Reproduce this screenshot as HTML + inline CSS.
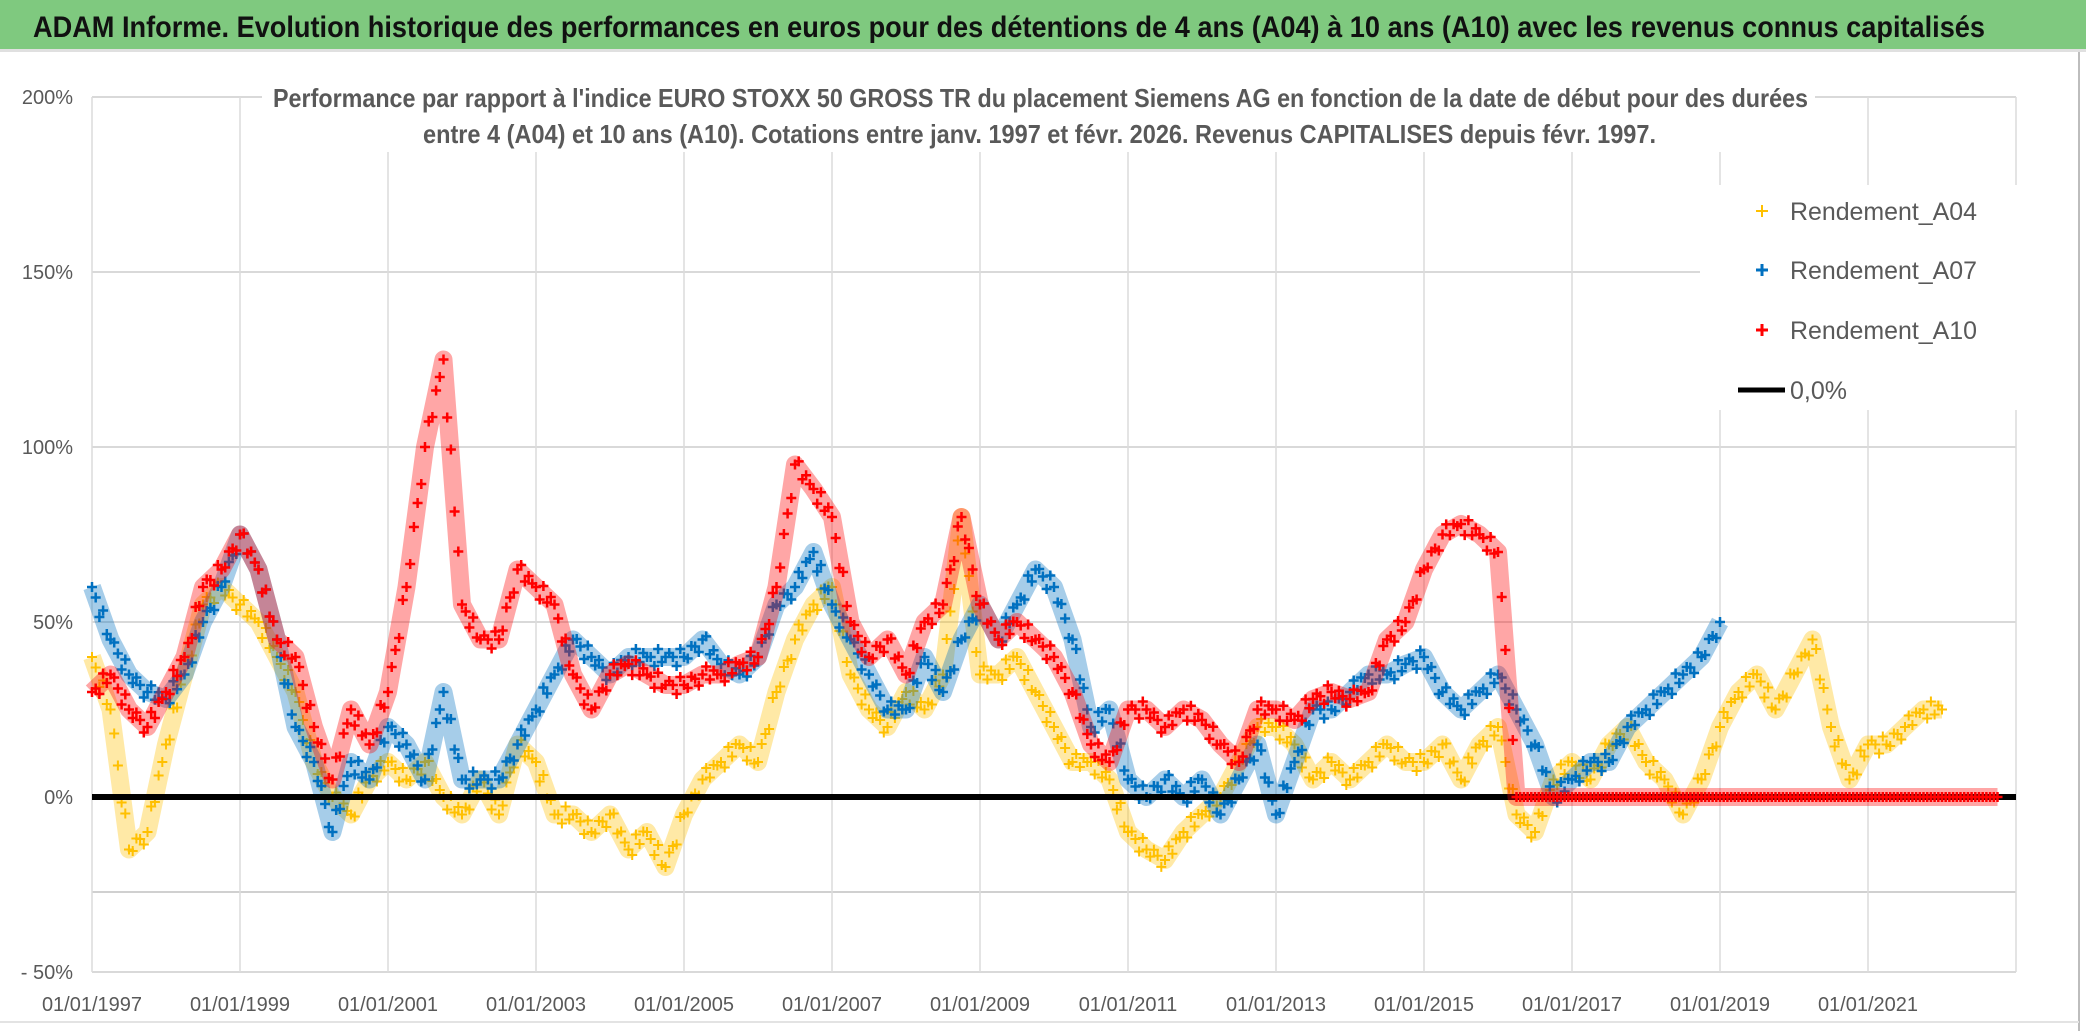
<!DOCTYPE html>
<html><head><meta charset="utf-8"><style>
html,body{margin:0;padding:0;background:#fff;}
svg{display:block;font-family:"Liberation Sans",sans-serif;}
</style></head><body>
<svg id="chart" width="2086" height="1031" viewBox="0 0 2086 1031" xmlns="http://www.w3.org/2000/svg">
<rect x="0" y="0" width="2086" height="1031" fill="#ffffff"/>
<rect x="0" y="0" width="2086" height="49" fill="#7fc97f"/>
<rect x="0" y="49" width="2086" height="3" fill="#e0e0e0"/>
<text x="33" y="37" font-size="30" font-weight="bold" fill="#111" textLength="1952" lengthAdjust="spacingAndGlyphs">ADAM Informe. Evolution historique des performances en euros pour des détentions de 4 ans (A04) à 10 ans (A10) avec les revenus connus capitalisés</text>
<line x1="2079" y1="52" x2="2079" y2="1031" stroke="#bdbdbd" stroke-width="2"/>
<line x1="0" y1="1022" x2="2079" y2="1022" stroke="#e3e3e3" stroke-width="2"/>
<g id="grid"></g>
<g id="yaxis"></g>
<g id="xaxis"></g>
<g id="series"></g>
<rect x="262" y="78" width="1553" height="74" fill="#ffffff"/>
<text x="273" y="107" font-size="26" font-weight="bold" fill="#595959" textLength="1535" lengthAdjust="spacingAndGlyphs">Performance par rapport à l'indice EURO STOXX 50 GROSS TR  du placement Siemens AG en fonction de la date de début pour des durées</text>
<text x="423" y="143" font-size="26" font-weight="bold" fill="#595959" textLength="1233" lengthAdjust="spacingAndGlyphs">entre 4 (A04) et 10 ans (A10). Cotations entre janv. 1997 et févr. 2026. Revenus CAPITALISES depuis févr. 1997.</text>
<g id="legend">
<rect x="1700" y="185" width="370" height="225" fill="#ffffff"/>
<g>
<path d="M1756 211h12M1762 205v12" stroke="#ffc000" stroke-width="2"/>
<text x="1790" y="220" font-size="25" fill="#595959" textLength="187" lengthAdjust="spacingAndGlyphs">Rendement_A04</text></g>
<g>
<path d="M1756 270h12M1762 264v12" stroke="#0070c0" stroke-width="3"/>
<text x="1790" y="279" font-size="25" fill="#595959" textLength="187" lengthAdjust="spacingAndGlyphs">Rendement_A07</text></g>
<g>
<path d="M1756 330h12M1762 324v12" stroke="#ff0000" stroke-width="3"/>
<text x="1790" y="339" font-size="25" fill="#595959" textLength="187" lengthAdjust="spacingAndGlyphs">Rendement_A10</text></g>
<g>
<line x1="1738" y1="390" x2="1785" y2="390" stroke="#000" stroke-width="5"/>
<text x="1790" y="399" font-size="25" fill="#595959">0,0%</text></g>
</g>
</svg>
<script>
const yTickValues = [200, 150, 100, 50, 0, -50];
const yTickLabels = ["200%", "150%", "100%", "50%", "0%", "- 50%"];
const xTickYears = [1997, 1999, 2001, 2003, 2005, 2007, 2009, 2011, 2013, 2015, 2017, 2019, 2021];
const xTickLabels = ["01/01/1997","01/01/1999","01/01/2001","01/01/2003","01/01/2005","01/01/2007","01/01/2009","01/01/2011","01/01/2013","01/01/2015","01/01/2017","01/01/2019","01/01/2021"];
const seriesStartYear = 1997;
const seriesStepYears = 0.25;
const valuesA04 = [40,25,-15,-10, 15,35,55,60, 55,50,40,30, 10,0,-5,5, 10,5,10,0, -5,5,-5,15, 10,-5,-5,-10, -5,-15,-10,-20, -5,5,10,15, 10,30,45,55, 60,35,25,20, 30,25,35,80, 35,35,40,30, 20,10,10,5, -10,-15,-18,-10, -5,0,10,20, 20,15,5,10, 5,10,15,10, 10,15,5,15, 20,-5,-10,5, 10,5,15,20, 10,5,-5,5, 20,30,35,25, 35,45,20,5, 15,15,20,25, 25];
const valuesA07 = [60,45,35,30, 28,35,50,60, 75,65,45,20, 10,-10,10,5, 20,15,5,30, 5,5,5,15, 25,35,45,40, 35,40,40,40, 40,45,38,35, 40,55,60,70, 55,45,35,25, 25,40,30,45, 55,45,55,65, 60,45,20,25, 5,0,5,0, 5,-5,5,15, -5,10,25,25, 30,35,35,38, 40,30,25,30, 35,25,15,0, 5,10,10,20, 25,30,35,40, 50];
const valuesA10 = [30,35,25,20, 30,40,60,65, 75,65,45,40, 20,5,25,15, 30,60,100,125, 55,45,45,65, 60,55,35,25, 35,38,35,32, 32,35,35,38, 40,60,95,88, 80,50,40,45, 35,50,55,80, 55,45,50,45, 40,30,15,10, 25,25,20,25, 22,15,10,25, 25,22,28,30, 28,30,45,50, 65,75,78,75, 70,0,0,0, 0,0,0,0, 0,0,0,0, 0,0,0,0, 0,0,0,0, 0,0,0,0, 0,0,0,0];

const NS = "http://www.w3.org/2000/svg";
const X0 = 92, X1 = 2016, YEAR0 = 1997, YEAR1 = 2023;
const Y_ZERO = 797, PX_PER_PCT = 3.5;
function xScale(year){ return X0 + (year - YEAR0) * (X1 - X0) / (YEAR1 - YEAR0); }
function yScale(v){ return Y_ZERO - v * PX_PER_PCT; }
function mk(tag, attrs, parent){
  const el = document.createElementNS(NS, tag);
  for (const k in attrs) el.setAttribute(k, attrs[k]);
  parent.appendChild(el);
  return el;
}
const grid = document.getElementById('grid');
const yaxis = document.getElementById('yaxis');
const xaxis = document.getElementById('xaxis');
const seriesG = document.getElementById('series');

yTickValues.forEach((v, i) => {
  if (v !== 0) {
    const gl = mk('line', {x1: X0, x2: X1, y1: yScale(v), y2: yScale(v), stroke: '#d9d9d9', 'stroke-width': 2}, grid);
    
    
  }
  const t = mk('text', {x: 73, y: yScale(v) + 7, 'font-size': 20, fill: '#595959', 'text-anchor': 'end'}, yaxis);
  t.textContent = yTickLabels[i];
  
  
});
const extra = mk('line', {x1: X0, x2: X1, y1: 892, y2: 892, stroke: '#d0d0d0', 'stroke-width': 2}, grid);



xTickYears.forEach((yr, i) => {
  const x = xScale(yr);
  const gl = mk('line', {x1: x, x2: x, y1: yScale(200), y2: yScale(-50), stroke: '#dcdcdc', 'stroke-width': 1.5}, grid);
  
  
  const t = mk('text', {x: x, y: 1011, 'font-size': 20, fill: '#595959', 'text-anchor': 'middle'}, xaxis);
  t.textContent = xTickLabels[i];
  
  
});
const rg = mk('line', {x1: X1, x2: X1, y1: yScale(200), y2: yScale(-50), stroke: '#dcdcdc', 'stroke-width': 1.5}, grid);



const jitterPattern = [0, 9, -8, 5, -4];
function drawSeries(values, color, name, sw){
  const g = mk('g', {}, seriesG);
  
  
  const pts = values.map((v, i) => [xScale(seriesStartYear + i * seriesStepYears), yScale(v)]);
  const band = mk('polyline', {points: pts.map(p => p.join(',')).join(' '), fill: 'none', stroke: color, 'stroke-width': 18, 'stroke-opacity': 0.35, 'stroke-linejoin': 'round'}, g);
  
  
  let d = '';
  let k = 0;
  for (let i = 0; i < pts.length; i++) {
    const [x, y] = pts[i];
    d += `M${x-5} ${y}h10M${x} ${y-5}v10`;
    if (i < pts.length - 1) {
      const [x2, y2] = pts[i+1];
      const flat = values[i] === 0 && values[i+1] === 0;
      for (const t of [0.2, 0.4, 0.6, 0.8]) {
        const off = flat ? 0 : jitterPattern[k++ % jitterPattern.length];
        const xi = x + (x2 - x) * t, yi = y + (y2 - y) * t + off;
        d += `M${xi-5} ${yi}h10M${xi} ${yi-5}v10`;
      }
    }
  }
  const marks = mk('path', {d: d, stroke: color, 'stroke-width': sw, fill: 'none'}, g);
  
  
}
drawSeries(valuesA04, '#ffc000', 'series-a04', 2);
drawSeries(valuesA07, '#0070c0', 'series-a07', 2.5);
const zl = mk('line', {x1: X0, x2: X1, y1: yScale(0), y2: yScale(0), stroke: '#000', 'stroke-width': 6}, seriesG);


drawSeries(valuesA10, '#ff0000', 'series-a10', 2.5);
</script>
</body></html>
